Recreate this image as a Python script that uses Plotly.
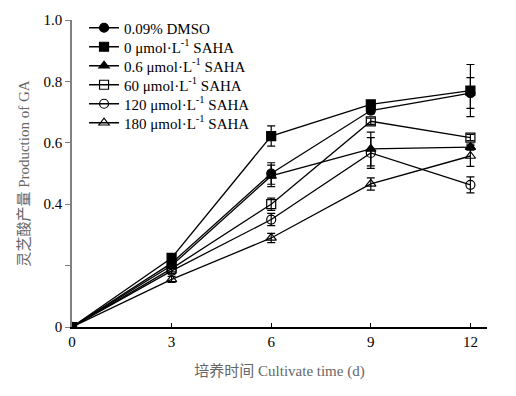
import plotly.graph_objects as go

days = [0, 3, 6, 9, 12]
series_names = [
    "0.09% DMSO",
    "0 μmol·L<sup>-1</sup> SAHA",
    "0.6 μmol·L<sup>-1</sup> SAHA",
    "60 μmol·L<sup>-1</sup> SAHA",
    "120 μmol·L<sup>-1</sup> SAHA",
    "180 μmol·L<sup>-1</sup> SAHA",
]
dmso = [0, 0.208, 0.50, 0.705, 0.762]
saha_0 = [0, 0.225, 0.622, 0.725, 0.770]
saha_06 = [0, 0.200, 0.492, 0.580, 0.586]
saha_60 = [0, 0.190, 0.400, 0.670, 0.617]
saha_120 = [0, 0.183, 0.350, 0.567, 0.463]
saha_180 = [0, 0.155, 0.290, 0.466, 0.557]

err_dmso = [0, 0.01, 0.035, 0.01, 0.05]
err_0 = [0, 0.01, 0.033, 0.01, 0.085]
err_06 = [0, 0.01, 0.035, 0.055, 0.01]
err_60 = [0, 0.01, 0.02, 0.01, 0.01]
err_120 = [0, 0.01, 0.02, 0.05, 0.026]
err_180 = [0, 0.01, 0.015, 0.02, 0.034]

y_tickvals = [0, 0.2, 0.4, 0.6, 0.8, 1.0]
y_ticktext = ["0", "", "0.4", "0.6", "0.8", "1.0"]
x_tickvals = [0, 3, 6, 9, 12]

symbols = ["circle", "square", "triangle-up", "square-open", "circle-open", "triangle-up-open"]
values = [dmso, saha_0, saha_06, saha_60, saha_120, saha_180]
errors = [err_dmso, err_0, err_06, err_60, err_120, err_180]

FONT = "Liberation Serif, Times New Roman, Noto Sans CJK SC, serif"

fig = go.Figure()
legend_ids = ["legend", "legend2", "legend3", "legend4", "legend5", "legend6"]
for name, vals, errs, sym, lid in zip(series_names, values, errors, symbols, legend_ids):
    fig.add_trace(go.Scatter(
        x=days, y=vals, name=name, mode="lines+markers", legend=lid,
        line=dict(color="black", width=1.3),
        marker=dict(symbol=sym, size=9, color="black", line=dict(color="black", width=1.2)),
        error_y=dict(type="data", array=errs, color="black", thickness=1.2, width=4),
    ))

legend_layout = {}
for i, lid in enumerate(legend_ids):
    legend_layout[lid] = dict(
        x=0.029, y=0.974 - 0.0619 * i, xanchor="left", yanchor="middle",
        bgcolor="rgba(0,0,0,0)", font=dict(size=15, family=FONT),
        itemwidth=30,
    )

fig.update_layout(
    width=516, height=396,
    margin=dict(l=64, r=37, t=12, b=77, autoexpand=False),
    paper_bgcolor="white", plot_bgcolor="white",
    font=dict(family=FONT, size=15, color="black"),
    showlegend=True,
    xaxis=dict(range=[0, 12.5], tickvals=x_tickvals, ticks="inside", ticklen=4,
               tickcolor="black", showline=True, linecolor="black", linewidth=1.5,
               showgrid=False, zeroline=False, automargin=False,
               title=dict(text="培养时间 Cultivate time (d)", font=dict(color="#666666", size=15), standoff=17)),
    yaxis=dict(range=[0, 1.0], tickvals=y_tickvals, ticktext=y_ticktext, ticks="outside",
               ticklen=5, tickcolor="#808080", showline=True, linecolor="#808080", linewidth=1.5,
               showgrid=False, zeroline=False, automargin=False,
               title=dict(text="灵芝酸产量 Production of GA", font=dict(color="#666666", size=15), standoff=10)),
    **legend_layout,
)

fig.write_html("out.html")
